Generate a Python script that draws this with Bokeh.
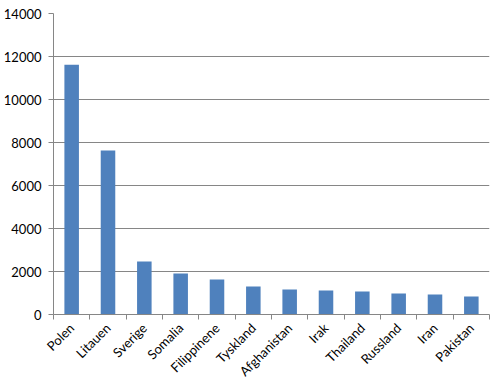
import numpy as np
from math import pi
from bokeh.plotting import figure
from bokeh.models import FixedTicker, Range1d
from bokeh.embed import file_html
from bokeh.resources import INLINE

countries = ["Polen", "Litauen", "Sverige", "Somalia", "Filippinene", "Tyskland",
             "Afghanistan", "Irak", "Thailand", "Russland", "Iran", "Pakistan"]
values = [11620, 7630, 2470, 1910, 1630, 1300, 1160, 1120, 1070, 980, 930, 840]
y_ticks = [0, 2000, 4000, 6000, 8000, 10000, 12000, 14000]

n = len(countries)
centers = [i + 0.5 for i in range(n)]
bounds = list(range(n + 1))

FONT = "Lato"
GREY = "#868686"

p = figure(width=496, height=387, output_backend="svg", toolbar_location=None,
           x_range=Range1d(0, n), y_range=Range1d(0, 14000),
           min_border_left=49, min_border_right=7, min_border_top=13, min_border_bottom=73)
p.outline_line_color = None
p.background_fill_color = "white"
p.border_fill_color = "white"

p.vbar(x=centers, top=values, width=0.4, color="#4F81BD", line_color=None)

# x axis
p.xaxis.ticker = FixedTicker(ticks=centers, minor_ticks=bounds)
p.xaxis.major_label_overrides = {c: name for c, name in zip(centers, countries)}
p.xaxis.major_tick_line_color = None
p.xaxis.minor_tick_line_color = GREY
p.xaxis.minor_tick_out = 5
p.xaxis.minor_tick_in = 0
p.xaxis.axis_line_color = GREY
p.xaxis.major_label_orientation = pi / 4
p.xaxis.major_label_text_font = FONT
p.xaxis.major_label_text_font_size = "13px"
p.xaxis.major_label_text_color = "black"
p.xaxis.major_label_standoff = 5

# y axis
p.yaxis.ticker = FixedTicker(ticks=y_ticks, minor_ticks=[])
p.yaxis.major_tick_line_color = GREY
p.yaxis.major_tick_out = 5
p.yaxis.major_tick_in = 0
p.yaxis.minor_tick_line_color = None
p.yaxis.axis_line_color = GREY
p.yaxis.major_label_text_font = FONT
p.yaxis.major_label_text_font_size = "13px"
p.yaxis.major_label_text_color = "black"
p.yaxis.major_label_standoff = 7

p.xgrid.grid_line_color = None
p.ygrid.grid_line_color = GREY
p.ygrid.grid_line_width = 1

open("out.html", "w").write(file_html(p, INLINE))
